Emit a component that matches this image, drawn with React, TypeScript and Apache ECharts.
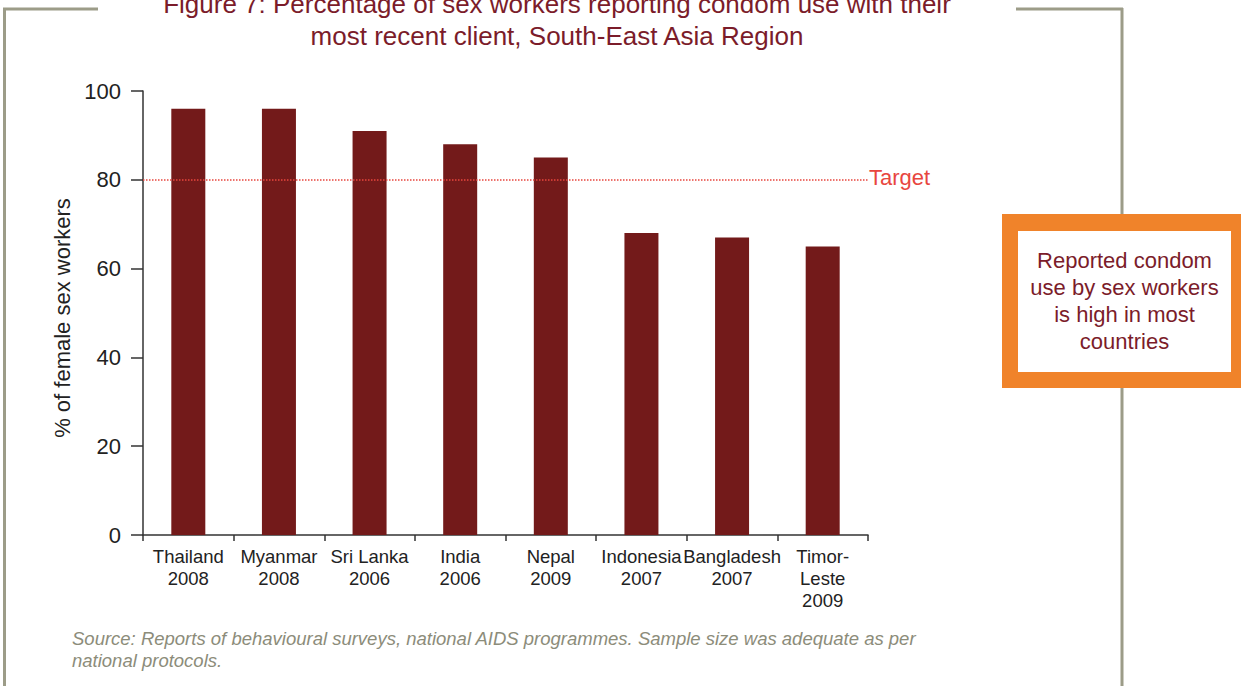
import React, { useEffect, useRef } from "react";
import * as echarts from "echarts";

const categories = [
  "Thailand\n2008",
  "Myanmar\n2008",
  "Sri Lanka\n2006",
  "India\n2006",
  "Nepal\n2009",
  "Indonesia\n2007",
  "Bangladesh\n2007",
  "Timor-\nLeste\n2009",
];
const values = [96, 96, 91, 88, 85, 68, 67, 65];
const targetValue = 80;
const yTicks = { min: 0, max: 100, interval: 20 };

const titleText = "Figure 7: Percentage of sex workers reporting condom use with their\nmost recent client, South-East Asia Region";
const sourceText = "Source: Reports of behavioural surveys, national AIDS programmes. Sample size was adequate as per\nnational protocols.";
const boxText = "Reported condom\nuse by sex workers\nis high in most\ncountries";

const FONT = "'Liberation Sans', Arial, Helvetica, sans-serif";
const FRAME = "#9c9c88";

export default function App() {
  const ref = useRef<HTMLDivElement>(null);
  useEffect(() => {
    if (!ref.current) return;
    const chart = echarts.init(ref.current, null, { renderer: "svg" });
    chart.setOption({
      animation: false,
      backgroundColor: "#ffffff",
      textStyle: { fontFamily: FONT },
      grid: { left: 143, right: 373, top: 91, bottom: 151, containLabel: false },
      xAxis: {
        type: "category",
        data: categories,
        axisLine: { show: true, lineStyle: { color: "#333", width: 1.5 } },
        axisTick: { show: true, length: 6, lineStyle: { color: "#333", width: 1.5 } },
        axisLabel: { color: "#222", fontSize: 18.5, lineHeight: 22, margin: 10, interval: 0, fontFamily: FONT },
      },
      yAxis: {
        type: "value",
        min: yTicks.min,
        max: yTicks.max,
        interval: yTicks.interval,
        name: "% of female sex workers",
        nameLocation: "middle",
        nameGap: 60,
        nameRotate: 90,
        nameTextStyle: { color: "#222", fontSize: 22, fontFamily: FONT, padding: [0, 10, 0, 0] },
        axisLine: { show: true, lineStyle: { color: "#333", width: 1.5 } },
        axisTick: { show: true, length: 12, lineStyle: { color: "#333", width: 1.5 } },
        axisLabel: { color: "#222", fontSize: 22, margin: 22, fontFamily: FONT },
        splitLine: { show: false },
      },
      series: [
        {
          type: "bar",
          data: values,
          barWidth: 34,
          itemStyle: { color: "#731a1a" },
          markLine: {
            silent: true,
            symbol: "none",
            lineStyle: { color: "#e8463e", type: "dotted", width: 1.5 },
            label: { show: true, position: "end", formatter: "Target", color: "#e8463e", fontSize: 22, distance: 1, fontFamily: FONT, offset: [0, -2] },
            data: [{ yAxis: targetValue }],
          },
        },
      ],
      graphic: [
        { type: "line", shape: { x1: 3, y1: 9, x2: 98, y2: 9 }, style: { stroke: FRAME, lineWidth: 3 } },
        { type: "line", shape: { x1: 1016, y1: 9, x2: 1123, y2: 9 }, style: { stroke: FRAME, lineWidth: 3 } },
        { type: "line", shape: { x1: 4.5, y1: 8, x2: 4.5, y2: 686 }, style: { stroke: FRAME, lineWidth: 3 } },
        { type: "line", shape: { x1: 1122, y1: 8, x2: 1122, y2: 686 }, style: { stroke: FRAME, lineWidth: 3 } },
        {
          type: "text",
          x: 557,
          y: 20,
          style: {
            text: titleText,
            fill: "#7b1c2a",
            font: `26px ${FONT}`,
            align: "center",
            verticalAlign: "middle",
            lineHeight: 32,
          },
        },
        { type: "rect", shape: { x: 1002, y: 214, width: 239, height: 174 }, style: { fill: "#f0832a" } },
        { type: "rect", shape: { x: 1018, y: 231, width: 213, height: 141 }, style: { fill: "#ffffff" } },
        {
          type: "text",
          x: 1124.5,
          y: 301,
          style: {
            text: boxText,
            fill: "#7b1c2a",
            font: `22px ${FONT}`,
            align: "center",
            verticalAlign: "middle",
            lineHeight: 27,
          },
        },
        {
          type: "text",
          x: 72,
          y: 649,
          style: {
            text: sourceText,
            fill: "#8c8c7a",
            font: `italic 18.5px ${FONT}`,
            align: "left",
            verticalAlign: "middle",
            lineHeight: 22,
          },
        },
      ],
    });
    return () => chart.dispose();
  }, []);
  return (
    <div
      ref={ref}
      style={{ position: "absolute", left: 0, top: 0, width: 1241, height: 686, background: "#fff" }}
    />
  );
}
